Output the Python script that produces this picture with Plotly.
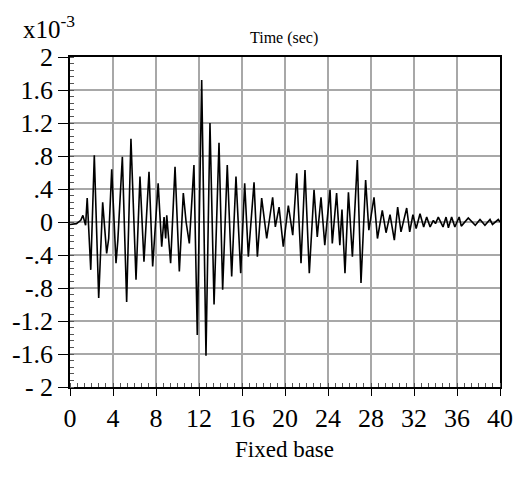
import plotly.graph_objects as go

# Response time history (units of 1e-3), read at local extrema
time_s = [0.0, 0.6, 1.0, 1.2, 1.45, 1.6, 1.93, 2.26, 2.67, 3.04, 3.41, 3.6, 3.88, 4.28, 4.45, 4.87,
          5.27, 5.67, 6.14, 6.51, 6.88, 7.35, 7.69, 8.2, 8.53, 8.75, 8.9, 9.0, 9.36, 9.77, 10.17,
          10.54, 10.8, 11.1, 11.53, 11.84, 12.25, 12.65, 13.02, 13.4, 13.86, 14.2, 14.63, 15.04,
          15.44, 15.88, 16.25, 16.59, 17.12, 17.43, 17.83, 18.3, 18.85, 19.1, 19.45, 19.84, 20.31,
          20.72, 21.09, 21.49, 21.86, 22.26, 22.7, 23.0, 23.35, 23.7, 24.19, 24.4, 24.8, 25.1,
          25.3, 25.58, 25.9, 26.27, 26.73, 27.07, 27.5, 27.8, 28.28, 28.6, 29.05, 29.4, 29.77,
          30.17, 30.48, 30.79, 31.32, 31.6, 31.9, 32.2, 32.56, 32.9, 33.18, 33.5, 33.8, 34.0,
          34.26, 34.7, 34.98, 35.2, 35.5, 35.8, 36.2, 36.4, 37.05, 37.7, 38.14, 38.6, 39.07,
          39.3, 39.84, 40.0]
response = [-0.03, -0.02, 0.02, 0.08, -0.04, 0.29, -0.58, 0.81, -0.92, 0.24, -0.38, -0.2, 0.64,
            -0.5, -0.22, 0.79, -0.97, 1.01, -0.7, 0.55, -0.48, 0.61, -0.54, 0.47, -0.3, 0.06, -0.2,
            0.08, -0.5, 0.67, -0.6, 0.35, 0.0, -0.26, 0.69, -1.37, 1.72, -1.62, 1.2, -1.0, 0.96,
            -0.82, 0.69, -0.66, 0.55, -0.62, 0.47, -0.42, 0.48, -0.42, 0.29, -0.2, 0.3, -0.06, 0.18,
            -0.3, 0.2, -0.16, 0.59, -0.5, 0.63, -0.62, 0.39, -0.18, 0.3, -0.28, 0.39, -0.26, 0.35,
            -0.28, 0.15, -0.62, 0.36, -0.42, 0.75, -0.74, 0.51, -0.1, 0.3, -0.2, 0.14, -0.13, 0.09,
            -0.22, 0.18, -0.12, 0.17, -0.12, 0.09, -0.08, 0.1, -0.06, 0.06, -0.06, 0.02, -0.02,
            0.06, -0.06, 0.06, -0.07, 0.06, -0.06, 0.06, -0.05, 0.05, -0.04, 0.03, -0.04, 0.03,
            -0.03, 0.03, 0.0]

x_ticks = [0, 4, 8, 12, 16, 20, 24, 28, 32, 36, 40]
y_ticks = [2, 1.6, 1.2, 0.8, 0.4, 0, -0.4, -0.8, -1.2, -1.6, -2]
y_tick_text = ["2", "1.6", "1.2", ".8", ".4", "0", "-.4", "-.8", "-1.2", "-1.6", "- 2"]

SERIF = "Liberation Serif, Times New Roman, serif"

fig = go.Figure()
fig.add_trace(go.Scatter(x=time_s, y=response, mode="lines",
                         line=dict(color="black", width=1.6),
                         showlegend=False))

axis_common = dict(showgrid=True, gridcolor="#a8a8a8", gridwidth=1.5, zeroline=False,
                   showline=True, linecolor="black", linewidth=1.5, mirror=True,
                   ticks="outside", tickcolor="black", tickwidth=1.2,
                   tickfont=dict(family=SERIF, size=26, color="black"))

fig.update_xaxes(range=[0, 40], tickvals=x_ticks, ticktext=[str(v) for v in x_ticks],
                 ticklen=7,
                 minor=dict(ticks="inside", ticklen=4, dtick=4 / 6, tickcolor="#555",
                            showgrid=False),
                 **axis_common)
fig.update_yaxes(range=[-2, 2], tickvals=y_ticks, ticktext=y_tick_text, ticklen=10,
                 minor=dict(ticks="inside", ticklen=4, dtick=0.08, tickcolor="#555",
                            showgrid=False),
                 **axis_common)

fig.add_annotation(text="x10<sup>-3</sup>", xref="paper", yref="paper",
                   x=-0.115, y=1.09, xanchor="left", yanchor="middle", showarrow=False,
                   font=dict(family=SERIF, size=25, color="black"))
fig.add_annotation(text="Time (sec)", xref="paper", yref="paper",
                   x=0.498, y=1.058, xanchor="center", yanchor="middle", showarrow=False,
                   font=dict(family=SERIF, size=16, color="black"))
fig.add_annotation(text="Fixed base", xref="paper", yref="paper",
                   x=0.498, y=-0.19, xanchor="center", yanchor="middle", showarrow=False,
                   font=dict(family=SERIF, size=23, color="black"))

fig.update_layout(width=527, height=479, margin=dict(l=70, r=27, t=57, b=92),
                  plot_bgcolor="white", paper_bgcolor="white")

fig.write_html("out.html")
